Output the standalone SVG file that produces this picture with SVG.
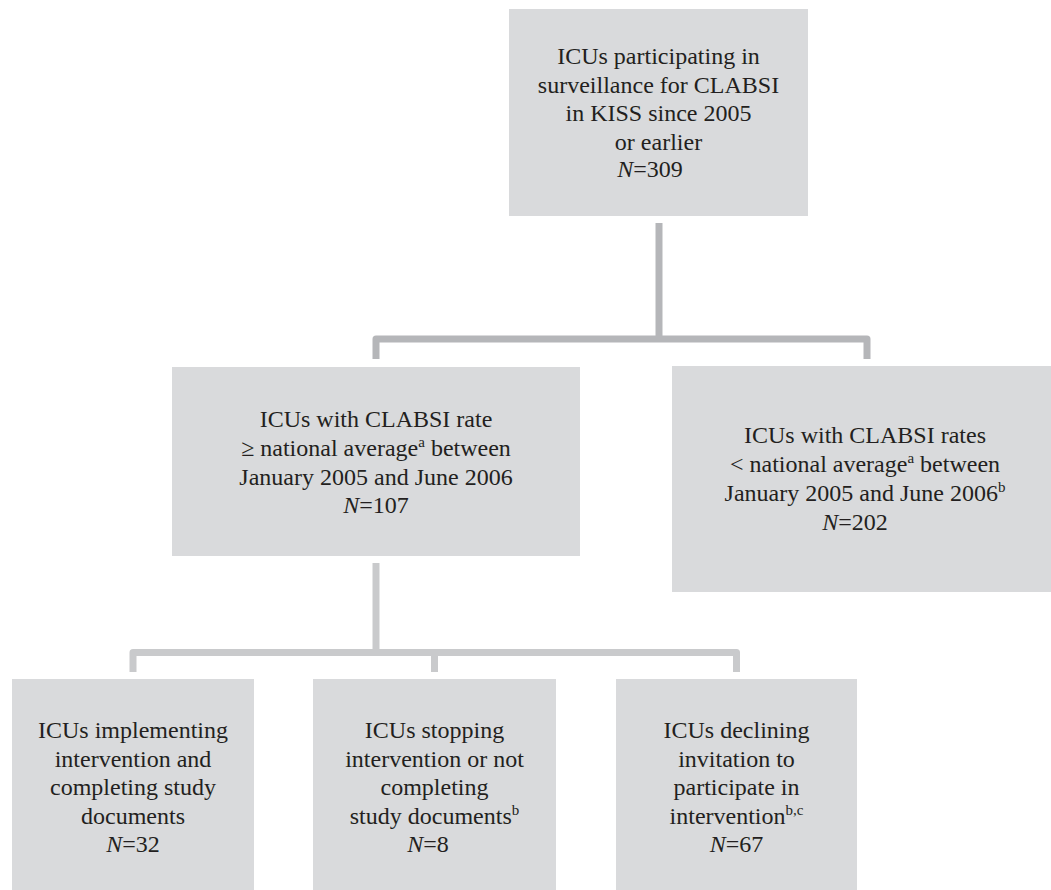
<svg xmlns="http://www.w3.org/2000/svg" width="1051" height="890" viewBox="0 0 1051 890">
<style>
.box{fill:#d9dadc}
.t{font-family:"Liberation Serif","Times New Roman",serif;font-size:24px;fill:#231f20;text-anchor:middle}
.i{font-style:italic}
.sup{font-size:15px}
.c1{fill:none;stroke:#b5b6b9;stroke-width:7;stroke-linejoin:round}
.c2{fill:none;stroke:#c9cacc;stroke-width:7;stroke-linejoin:round}
</style>
<rect width="1051" height="890" fill="#ffffff"/>
<g id="connectors">
<path class="c1" d="M659 223 V339"/>
<path class="c1" d="M376 359 V339 H867 V359"/>
<path class="c2" d="M376 563 V652.5"/>
<path class="c2" d="M133 672 V652.5 H736.5 V672"/>
<path class="c2" d="M434.5 652.5 V672"/>
</g>
<g id="n1">
<rect class="box" x="509" y="9" width="299" height="207"/>
<text class="t" x="658.5" y="64">ICUs participating in</text>
<text class="t" x="658.5" y="92.5">surveillance for CLABSI</text>
<text class="t" x="658.5" y="121">in KISS since 2005</text>
<text class="t" x="658.5" y="149.5">or earlier</text>
<text class="t" x="650" y="177"><tspan class="i">N</tspan>=309</text>
</g>
<g id="n2">
<rect class="box" x="172" y="367" width="408" height="189"/>
<text class="t" x="376" y="427">ICUs with CLABSI rate</text>
<text class="t" x="376" y="456">≥ national average<tspan class="sup" dy="-9">a</tspan><tspan dy="9"> between</tspan></text>
<text class="t" x="376" y="484.5">January 2005 and June 2006</text>
<text class="t" x="376" y="513"><tspan class="i">N</tspan>=107</text>
</g>
<g id="n3">
<rect class="box" x="672" y="366" width="379" height="226"/>
<text class="t" x="865" y="443">ICUs with CLABSI rates</text>
<text class="t" x="865" y="472">&lt; national average<tspan class="sup" dy="-9">a</tspan><tspan dy="9"> between</tspan></text>
<text class="t" x="865" y="501">January 2005 and June 2006<tspan class="sup" dy="-9">b</tspan></text>
<text class="t" x="855" y="530"><tspan class="i">N</tspan>=202</text>
</g>
<g id="n4">
<rect class="box" x="12" y="679" width="242" height="211"/>
<text class="t" x="133" y="738">ICUs implementing</text>
<text class="t" x="133" y="766.5">intervention and</text>
<text class="t" x="133" y="795">completing study</text>
<text class="t" x="133" y="823.5">documents</text>
<text class="t" x="133" y="852"><tspan class="i">N</tspan>=32</text>
</g>
<g id="n5">
<rect class="box" x="313" y="679" width="243" height="211"/>
<text class="t" x="434.5" y="738">ICUs stopping</text>
<text class="t" x="434.5" y="766.5">intervention or not</text>
<text class="t" x="434.5" y="795">completing</text>
<text class="t" x="434.5" y="823.5">study documents<tspan class="sup" dy="-9">b</tspan></text>
<text class="t" x="428" y="852"><tspan class="i">N</tspan>=8</text>
</g>
<g id="n6">
<rect class="box" x="616" y="679" width="241" height="211"/>
<text class="t" x="736.5" y="738">ICUs declining</text>
<text class="t" x="736.5" y="766.5">invitation to</text>
<text class="t" x="736.5" y="795">participate in</text>
<text class="t" x="736.5" y="823.5">intervention<tspan class="sup" dy="-9">b,c</tspan></text>
<text class="t" x="736.5" y="852"><tspan class="i">N</tspan>=67</text>
</g>
</svg>
